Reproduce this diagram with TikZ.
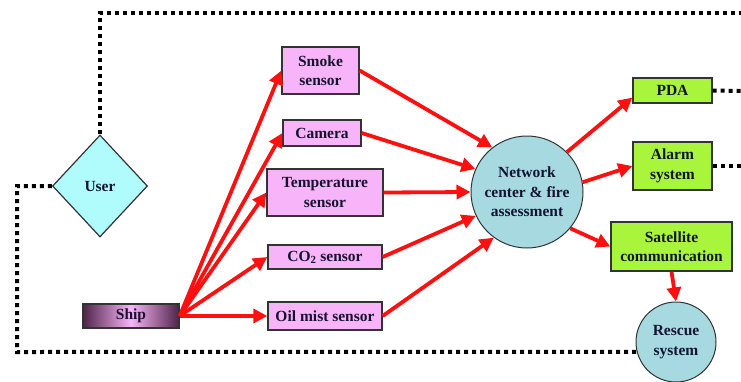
\documentclass[tikz,border=0pt]{standalone}
\usepackage{fontspec}
\setmainfont{Liberation Serif}
\usetikzlibrary{shapes.geometric,arrows.meta}
\definecolor{pinkfill}{HTML}{F8B4F8}
\definecolor{greenfill}{HTML}{A8F53C}
\definecolor{cyanfill}{HTML}{B0FCFC}
\definecolor{circfill}{HTML}{A6DAE0}
\definecolor{bordercol}{HTML}{333333}
\definecolor{txtcol}{HTML}{14142E}
\definecolor{shipdark}{HTML}{4E2448}
\definecolor{arrred}{HTML}{FF1010}
\tikzset{
  every node/.style={font=\bfseries\fontsize{15.5}{19.5}\selectfont, text=txtcol, align=center, inner sep=0pt},
  sensorbox/.style={draw=bordercol, fill=pinkfill, line width=1.3pt, rectangle},
  greenbox/.style={draw=bordercol, fill=greenfill, line width=1.3pt, rectangle},
  roundnode/.style={draw=bordercol, fill=circfill, line width=1pt, circle},
  redarrow/.style={draw=arrred, line width=3.8pt, -{Triangle[length=14pt,width=14pt]}},
  dotline/.style={draw=black, line width=4pt, dash pattern=on 4pt off 4pt}
}
\begin{document}
\begin{tikzpicture}[x=1pt,y=-1pt]
\useasboundingbox (0,0) rectangle (741,381);
% nodes
\node[sensorbox, minimum width=77pt, minimum height=47pt] (smoke) at (320.5,70.5) {Smoke\\sensor};
\node[sensorbox, minimum width=78pt, minimum height=26pt] (camera) at (322,133) {Camera};
\node[sensorbox, minimum width=116pt, minimum height=47pt] (temp) at (325,192.5) {Temperature\\sensor};
\node[sensorbox, minimum width=114pt, minimum height=24pt] (co2) at (325,257) {CO\textsubscript{2} sensor};
\node[sensorbox, minimum width=114pt, minimum height=28pt] (oil) at (325,316) {Oil mist sensor};
\node[draw=bordercol, line width=1.3pt, left color=shipdark, right color=shipdark, middle color=pinkfill, minimum width=96pt, minimum height=24pt] (ship) at (131,316) {Ship};
\node[diamond, draw=bordercol, fill=cyanfill, line width=1.2pt, minimum width=95pt, minimum height=102pt] (user) at (100,186) {User};
\node[roundnode, minimum size=112pt] (net) at (527,192) {Network\\center \& fire\\assessment};
\node[greenbox, minimum width=79pt, minimum height=25pt] (pda) at (672.5,90.5) {PDA};
\node[greenbox, minimum width=79pt, minimum height=48pt] (alarm) at (672.5,166) {Alarm\\system};
\node[greenbox, minimum width=121pt, minimum height=49pt] (sat) at (671.5,246.5) {Satellite\\communication};
\node[roundnode, minimum size=80pt] (rescue) at (676,342) {Rescue\\system};
% dotted connectors
\coordinate (topleft) at (100,13);
\coordinate (topright) at (741,13);
\coordinate (leftup) at (17,186);
\coordinate (leftdown) at (17,352);
\coordinate (pdaend) at (741,91);
\coordinate (alarmend) at (741,166);
\draw[dotline] (user.north) -- (topleft) -- (topright);
\draw[dotline] (user.west) -- (leftup) -- (leftdown) -- (rescue.194);
\draw[dotline] (pda.east) -- (pdaend);
\draw[dotline] (alarm.east) -- (alarmend);
% red arrows
\foreach \t in {smoke,camera,temp,co2,oil}
  \draw[redarrow] (ship.east) -- (\t.west);
\draw[redarrow] (smoke.east) -- (net.128);
\draw[redarrow] (camera.east) -- (net.156);
\draw[redarrow] (temp.east) -- (net.180);
\draw[redarrow] (co2.east) -- (net.205);
\draw[redarrow] (oil.east) -- (net.234);
\draw[redarrow] (net.45) -- (pda.190);
\draw[redarrow] (net.10) -- (alarm.west);
\draw[redarrow] (net.320) -- (sat.west);
\draw[redarrow] (sat.south) -- (rescue.north);
\end{tikzpicture}
\end{document}
